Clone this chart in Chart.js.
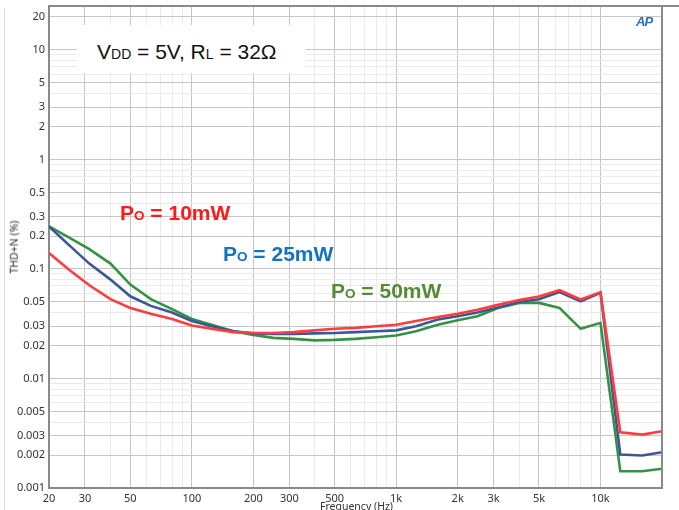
<!DOCTYPE html>
<html>
<head>
<meta charset="utf-8">
<script src="https://cdn.jsdelivr.net/npm/chart.js@4.4.0/dist/chart.umd.min.js"></script>
<style>
  html, body { margin: 0; padding: 0; background: #fff; overflow: hidden; }
  #wrap { position: relative; width: 679px; height: 510px; }
  canvas { position: absolute; left: 0; top: 0; }
  .txt { position: absolute; font-family: "Liberation Sans", Arial, sans-serif; line-height: 1; white-space: nowrap; }
  .cond { left: 77px; top: 25px; width: 229px; height: 48px; background: #fff; }
  .cond span.main { position: absolute; left: 20px; top: 15.5px; font-size: 21px; color: #111; }
  .s { font-size: 14px; }
  .po { font-size: 21px; font-weight: bold; }
  .po .s { font-size: 13.5px; }
  .axt { position: absolute; font-family: "Noto Sans", sans-serif; font-size: 10.5px; color: #333; line-height: 1; white-space: nowrap; }
  .logo { position: absolute; left: 636px; top: 14px; font-family: "Liberation Sans", Arial, sans-serif; font-style: italic; font-weight: bold; font-size: 13px; color: #2a6fbd; letter-spacing: -1px; }
</style>
</head>
<body>
<div id="wrap">
  <canvas id="grafico" width="679" height="510"></canvas>
  <div class="txt cond"><span class="main">V<span class="s">DD</span> = 5V, R<span class="s">L</span> = 32Ω</span></div>
  <div class="txt po" style="left:120px; top:202px; color:#ff1a1a;">P<span class="s">O</span> = 10mW</div>
  <div class="txt po" style="left:223px; top:243px; color:#1272c4;">P<span class="s">O</span> = 25mW</div>
  <div class="txt po" style="left:331px; top:279.5px; color:#568a34;">P<span class="s">O</span> = 50mW</div>
  <div class="axt" style="left:320px; top:501px;">Frequency (Hz)</div>
  <div class="axt" style="left:14px; top:247px; transform: translate(-50%, -50%) rotate(-90deg);">THD+N (%)</div>
  <div class="logo">AP</div>
</div>
<script>
// Frequências (Hz) em 1/3 de oitava
const frequencias = [20, 25, 31.5, 40, 50, 63, 80, 100, 125, 160, 200, 250, 315, 400, 500, 630, 800,
    1000, 1250, 1600, 2000, 2500, 3150, 4000, 5000, 6300, 8000, 10000, 12500, 16000, 20000];

// THD+N (%) para cada potência
const thd10mW = [0.140, 0.099, 0.071, 0.053, 0.044, 0.039, 0.035, 0.0305, 0.0285, 0.0265, 0.026, 0.026, 0.0265,
    0.0275, 0.0285, 0.029, 0.030, 0.031, 0.0335, 0.0365, 0.039, 0.0425, 0.047, 0.052, 0.056, 0.064, 0.0526,
    0.0612, 0.00323, 0.00307, 0.0033];
const thd25mW = [0.245, 0.166, 0.112, 0.080, 0.0563, 0.046, 0.040, 0.0335, 0.030, 0.027, 0.0258, 0.0255, 0.0255,
    0.0258, 0.026, 0.0265, 0.027, 0.0275, 0.030, 0.0345, 0.037, 0.040, 0.0445, 0.050, 0.053, 0.0617, 0.0507,
    0.0605, 0.00202, 0.00198, 0.00212];
const thd50mW = [0.245, 0.194, 0.152, 0.112, 0.072, 0.053, 0.043, 0.035, 0.031, 0.027, 0.025, 0.0235, 0.023,
    0.0223, 0.0225, 0.023, 0.0238, 0.0247, 0.027, 0.031, 0.034, 0.037, 0.044, 0.049, 0.049, 0.0441, 0.0284,
    0.0322, 0.00142, 0.00142, 0.0015];

// Marcas dos eixos
const ticksX = [20, 30, 50, 100, 200, 300, 500, 1000, 2000, 3000, 5000, 10000];
const rotulosX = ["20", "30", "50", "100", "200", "300", "500", "1k", "2k", "3k", "5k", "10k"];
const ticksY = [0.001, 0.002, 0.003, 0.005, 0.01, 0.02, 0.03, 0.05, 0.1, 0.2, 0.3, 0.5, 1, 2, 3, 5, 10, 20];
const rotulosY = ["0.001", "0.002", "0.003", "0.005", "0.01", "0.02", "0.03", "0.05", "0.1", "0.2", "0.3", "0.5",
    "1", "2", "3", "5", "10", "20"];

// Gera as linhas de grade secundárias (1..9 por década)
function gradeLog(min, max) {
    const valores = [];
    for (let d = Math.floor(Math.log10(min)); d <= Math.ceil(Math.log10(max)); d++) {
        for (let m = 1; m < 10; m++) {
            const v = parseFloat((m * Math.pow(10, d)).toPrecision(6));
            if (v >= min && v <= max) valores.push(v);
        }
    }
    return valores;
}

const gradeX = gradeLog(20, 20000);
const gradeY = gradeLog(0.001, 20);

function pontos(valores) {
    return frequencias.map((f, i) => ({ x: f, y: valores[i] }));
}

function corGrade(lista) {
    return (ctx) => {
        if (!ctx.tick) return "#ececec";
        return lista.some((v) => Math.abs(v - ctx.tick.value) / v < 1e-6) ? "#c6c6c6" : "#ebebeb";
    };
}

// Moldura do gráfico
const moldura = {
    id: "moldura",
    afterDraw(chart) {
        const { ctx, chartArea } = chart;
        ctx.save();
        ctx.strokeStyle = "#dcdcdc";
        ctx.lineWidth = 1;
        ctx.beginPath();
        ctx.moveTo(4.5, 8);
        ctx.lineTo(4.5, 510);
        ctx.stroke();
        ctx.strokeStyle = "#8a8a8a";
        ctx.lineWidth = 2;
        ctx.beginPath();
        ctx.moveTo(chartArea.left, chartArea.top);
        ctx.lineTo(679, chartArea.top);
        ctx.moveTo(chartArea.right, chartArea.top);
        ctx.lineTo(chartArea.right, chartArea.bottom);
        ctx.stroke();
        ctx.restore();
    }
};

const fonteTicks = { family: "'Noto Sans', sans-serif", size: 11 };

function semPadding(scale) {
    scale.paddingTop = 0;
    scale.paddingBottom = 0;
    scale.paddingLeft = 0;
    scale.paddingRight = 0;
}

new Chart(document.getElementById("grafico").getContext("2d"), {
    type: "line",
    data: {
        datasets: [
            { label: "10mW", data: pontos(thd10mW), borderColor: "#ff3d3d", borderWidth: 2.6 },
            { label: "25mW", data: pontos(thd25mW), borderColor: "#3b5797", borderWidth: 2.6 },
            { label: "50mW", data: pontos(thd50mW), borderColor: "#379142", borderWidth: 2.6 }
        ]
    },
    options: {
        responsive: false,
        animation: false,
        devicePixelRatio: 1,
        elements: { point: { radius: 0 }, line: { tension: 0 } },
        layout: { padding: { left: 0, top: 6, right: 17, bottom: 0 } },
        plugins: { legend: { display: false }, tooltip: { enabled: false } },
        scales: {
            x: {
                type: "logarithmic",
                min: 20,
                max: 20000,
                afterFit: (scale) => { scale.height = 22; semPadding(scale); },
                afterBuildTicks: (scale) => { scale.ticks = gradeX.map((v) => ({ value: v })); },
                ticks: {
                    autoSkip: false,
                    maxRotation: 0,
                    padding: 4,
                    color: "#333",
                    font: fonteTicks,
                    callback: (valor) => {
                        const i = ticksX.indexOf(valor);
                        return i >= 0 ? rotulosX[i] : "";
                    }
                },
                grid: { color: corGrade(ticksX), drawTicks: false },
                border: { color: "#8a8a8a", width: 2 }
            },
            y: {
                type: "logarithmic",
                min: 0.001,
                max: 25.2,
                afterFit: (scale) => { scale.width = 49; semPadding(scale); },
                afterBuildTicks: (scale) => { scale.ticks = gradeY.map((v) => ({ value: v })); },
                ticks: {
                    autoSkip: false,
                    padding: 4,
                    color: "#333",
                    font: fonteTicks,
                    callback: (valor) => {
                        const i = ticksY.findIndex((v) => Math.abs(v - valor) / v < 1e-6);
                        return i >= 0 ? rotulosY[i] : "";
                    }
                },
                grid: { color: corGrade(ticksY), drawTicks: false },
                border: { color: "#8a8a8a", width: 2 }
            }
        }
    },
    plugins: [moldura]
});
</script>
</body>
</html>
